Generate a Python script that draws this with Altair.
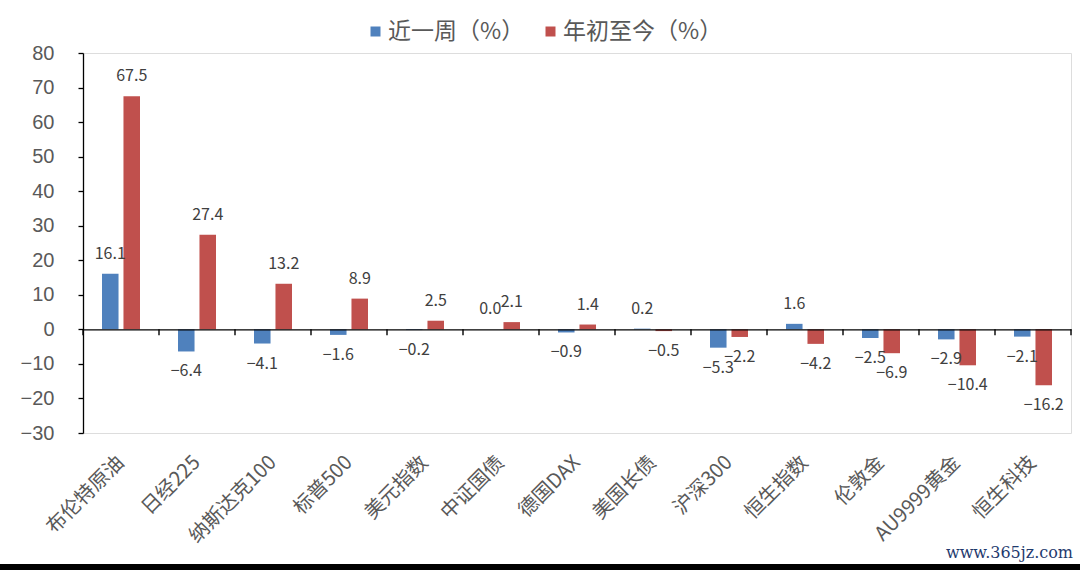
import altair as alt
import pandas as pd

categories = ["布伦特原油", "日经225", "纳斯达克100", "标普500", "美元指数", "中证国债",
              "德国DAX", "美国长债", "沪深300", "恒生指数", "伦敦金", "AU9999黄金", "恒生科技"]
week = [16.1, -6.4, -4.1, -1.6, -0.2, 0.0, -0.9, 0.2, -5.3, 1.6, -2.5, -2.9, -2.1]
ytd = [67.5, 27.4, 13.2, 8.9, 2.5, 2.1, 1.4, -0.5, -2.2, -4.2, -6.9, -10.4, -16.2]
series = ["近一周（%）", "年初至今（%）"]
colors = ["#4F81BD", "#C0504D"]
y_ticks = list(range(-30, 81, 10))
y_domain = [-30, 80]
watermark = "www.365jz.com"

rows = []
for c, w, t in zip(categories, week, ytd):
    rows.append({"cat": c, "series": series[0], "value": w})
    rows.append({"cat": c, "series": series[1], "value": t})
df = pd.DataFrame(rows)

# category boundaries (0 .. number of categories) for the tick marks on the zero line
boundaries = list(range(len(categories) + 1))

W, H = 988, 380
TICK_PX = 6
zero_offset = -H * (0 - y_domain[0]) / (y_domain[1] - y_domain[0])
tick_units = TICK_PX * (y_domain[1] - y_domain[0]) / H

cjk = "Noto Sans CJK SC"

x_scale = alt.Scale(domain=categories, paddingInner=0.5, paddingOuter=0.25)
y_scale = alt.Scale(domain=y_domain, nice=False, zero=False)
xo = alt.XOffset("series:N", sort=series,
                 scale=alt.Scale(domain=series, paddingInner=0.23))

bars = alt.Chart(df).mark_bar().encode(
    x=alt.X("cat:N", sort=categories, scale=x_scale, axis=None),
    xOffset=xo,
    y=alt.Y("value:Q", scale=y_scale,
            axis=alt.Axis(values=y_ticks, title=None, grid=False, domainColor="#000000",
                          domainWidth=1.3, tickWidth=1.3,
                          tickColor="#000000", tickSize=5, labelFontSize=20,
                          labelFont="Liberation Sans", labelColor="#595959",
                          labelPadding=24)),
    color=alt.Color("series:N", sort=series, scale=alt.Scale(domain=series, range=colors),
                    legend=alt.Legend(title=None, orient="none", direction="horizontal",
                                      legendX=281, legendY=-33, symbolType="square",
                                      symbolSize=100, labelFontSize=23, labelFont=cjk,
                                      labelColor="#595959", columnPadding=14,
                                      gridAlign="none",
                                      labelOffset=1, symbolStrokeWidth=0)),
)

def label_layer(cond, dy, axis):
    return alt.Chart(df).transform_filter(cond).transform_calculate(
        txt="format(datum.value, '.1f')"
    ).mark_text(font=cjk, fontSize=16, color="#404040", baseline="middle", dy=dy).encode(
        x=alt.X("cat:N", sort=categories, scale=x_scale, axis=axis),
        xOffset=xo,
        y=alt.Y("value:Q", scale=y_scale, axis=None),
        text="txt:N",
    )

label_axis = alt.Axis(orient="bottom", domain=False, ticks=False, tickSize=0, title=None,
                      labelAngle=-45, labelAlign="right", labelBaseline="middle",
                      labelPadding=26, labelFont=cjk, labelFontSize=20,
                      labelColor="#595959")

pos_labels = label_layer("datum.value >= 0", -20, label_axis)
neg_labels = label_layer("datum.value < 0", 20, None)

bx_scale = alt.Scale(domain=[0, len(categories)], nice=False, zero=False)
zero_ticks = alt.Chart(pd.DataFrame({"b": boundaries})).transform_calculate(
    y0="0", y1=f"{-tick_units}"
).mark_rule(color="#000000", strokeWidth=1.4).encode(
    x=alt.X("b:Q", scale=bx_scale,
            axis=alt.Axis(orient="bottom", offset=zero_offset, labels=False, title=None,
                          ticks=False, grid=False, domainColor="#000000",
                          domainWidth=1.3, zindex=1)),
    y=alt.Y("y0:Q", scale=y_scale, axis=None),
    y2="y1:Q",
)

wm = alt.Chart(pd.DataFrame({"t": [watermark]})).mark_text(
    font="DejaVu Serif", fontSize=16, color="#1F3A6E", align="right", baseline="middle"
).encode(x=alt.value(990), y=alt.value(500), text="t:N")

band = alt.Chart(pd.DataFrame({"t": [0]})).mark_rule(color="#000000", strokeWidth=6).encode(
    x=alt.value(-83), x2=alt.value(997), y=alt.value(514)
)

chart = alt.layer(bars, pos_labels, neg_labels, zero_ticks, wm, band).resolve_scale(
    x="independent"
).resolve_axis(
    x="independent", y="independent"
).properties(
    width=W, height=H,
    autosize=alt.AutoSizeParams(type="none"),
    padding={"left": 83, "top": 53, "right": 9, "bottom": 137},
).configure_view(stroke=None).configure(background="white")

chart.save("out.html", embed_options={"renderer": "svg", "actions": False})
